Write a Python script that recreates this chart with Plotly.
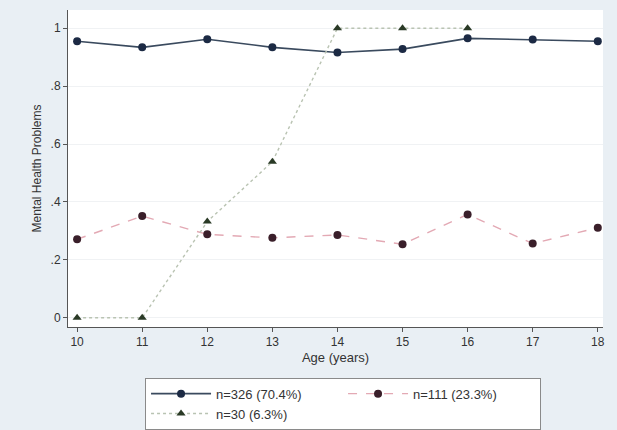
import plotly.graph_objects as go

ages = [10, 11, 12, 13, 14, 15, 16, 17, 18]
ages_g3 = [10, 11, 12, 13, 14, 15, 16]

prob_g1 = [0.955, 0.934, 0.962, 0.934, 0.916, 0.928, 0.965, 0.961, 0.955]
prob_g2 = [0.271, 0.351, 0.288, 0.276, 0.286, 0.254, 0.357, 0.256, 0.311]
prob_g3 = [0.0, 0.0, 0.332, 0.539, 1.0, 1.0, 1.0]

labels = ["n=326 (70.4%)", "n=111 (23.3%)", "n=30 (6.3%)"]
y_ticks = [0, 0.2, 0.4, 0.6, 0.8, 1]
y_tick_text = ["0", ".2", ".4", ".6", ".8", "1"]

fig = go.Figure()
fig.add_trace(go.Scatter(
    x=ages, y=prob_g1, name=labels[0], mode="lines+markers",
    line=dict(color="#3a4a5e", width=1.6),
    marker=dict(symbol="circle", size=8, color="#1c2a44"),
))
fig.add_trace(go.Scatter(
    x=ages, y=prob_g2, name=labels[1], mode="lines+markers",
    line=dict(color="#e3a9b4", width=1.4, dash="dash"),
    marker=dict(symbol="circle", size=8, color="#3a1f2a"),
))
fig.add_trace(go.Scatter(
    x=ages_g3, y=prob_g3, name=labels[2], mode="lines+markers",
    line=dict(color="#b9c3b2", width=1.4, dash="dot"),
    marker=dict(symbol="triangle-up", size=8, color="#2a3a26"),
))

fig.update_layout(
    width=617, height=430,
    paper_bgcolor="#e9eff4",
    plot_bgcolor="#ffffff",
    margin=dict(l=68, r=14, t=10, b=103, autoexpand=False),
    font=dict(family="Liberation Sans, Arial, sans-serif", size=12, color="#333333"),
    showlegend=True,
    legend=dict(
        orientation="h", x=0.144, xanchor="left", y=-0.16, yanchor="top",
        bgcolor="#ffffff", bordercolor="#8a8a8a", borderwidth=1,
        itemwidth=60,
        entrywidth=122, entrywidthmode="pixels",
        font=dict(size=13, color="#333333"),
        tracegroupgap=0,
    ),
)
fig.update_xaxes(
    range=[9.86, 18.08], tickmode="array", tickvals=ages,
    ticks="outside", ticklen=4, tickcolor="#555555",
    showline=True, linecolor="#555555", linewidth=1,
    showgrid=False, zeroline=False,
    title=dict(text="Age (years)", standoff=4, font=dict(size=13)),
)
fig.update_yaxes(
    range=[-0.032, 1.063], tickmode="array", tickvals=y_ticks, ticktext=y_tick_text,
    ticks="outside", ticklen=4, tickcolor="#555555",
    showline=True, linecolor="#555555", linewidth=1,
    showgrid=True, gridcolor="#f0f2f4", gridwidth=1, zeroline=False,
    title=dict(text="Mental Health Problems", standoff=6, font=dict(size=12)),
)

fig.write_html("out.html")
